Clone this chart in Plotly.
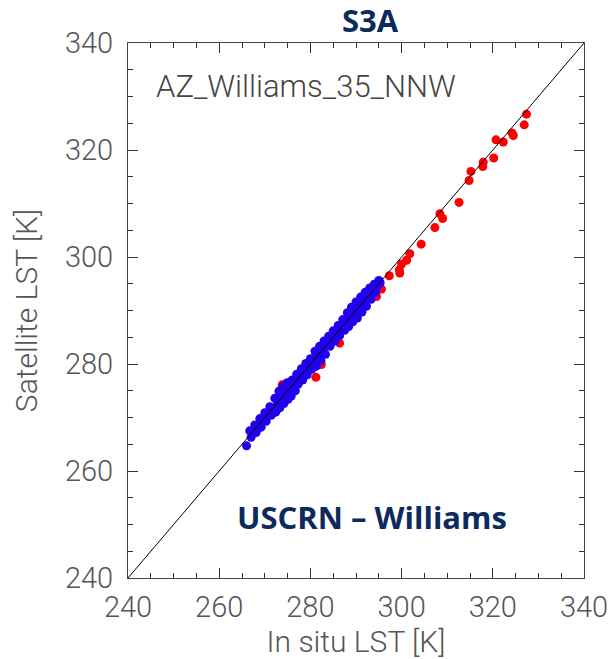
import plotly.graph_objects as go

# In situ vs satellite LST [K], blue = main sample, red = additional matchups
blue_insitu = [
    266.0,
    266.7, 267.0, 267.4, 267.8, 268.1, 268.5, 268.9, 269.2, 269.6, 270.0, 270.3,
    270.7, 271.1, 271.4, 271.8,
    272.2, 272.4, 272.8, 273.1, 273.3, 273.7, 274.0, 274.2, 274.6, 274.9, 275.1,
    275.5, 275.8, 276.0, 276.4, 276.7,
    277.0, 277.3, 277.7, 278.0, 278.3, 278.7, 279.0, 279.3, 279.7, 280.0, 280.3,
    280.7,
    281.0, 281.3, 281.6, 282.0, 282.3, 282.6, 283.0, 283.3, 283.7, 284.0,
    284.3, 284.7, 285.0, 285.4, 285.7, 286.1, 286.4, 286.8, 287.1, 287.5, 287.8,
    288.1, 288.4, 288.7, 289.0, 289.3, 289.7, 290.0, 290.3, 290.6, 291.0, 291.3,
    291.6, 292.0, 292.3, 292.6, 293.0,
    293.3, 293.6, 294.0, 294.3, 294.7, 295.0, 295.3,
]
blue_sat = [
    264.7,
    267.5, 266.3, 267.5, 268.6, 267.2, 268.3, 269.8, 268.2, 269.5, 270.9, 269.3,
    270.6, 272.0, 270.4, 271.7,
    273.6, 271.0, 272.7, 274.9, 271.8, 273.6, 275.8, 272.6, 274.5, 276.5, 273.4,
    275.3, 274.0, 277.0, 275.9, 275.0,
    278.1, 276.2, 277.5, 279.1, 277.0, 278.6, 280.1, 278.0, 279.6, 281.0, 279.0,
    280.6,
    282.4, 279.6, 281.2, 283.3, 280.6, 282.3, 284.3, 281.8, 283.4, 285.2,
    283.3, 284.9, 286.2, 284.3, 285.8, 287.2, 285.3, 286.9, 288.3, 286.3, 287.9,
    289.6, 287.0, 288.8, 290.6, 287.9, 289.6, 291.6, 288.6, 290.5, 292.5, 289.7,
    291.3, 293.4, 290.8, 292.4, 294.2,
    292.1, 293.7, 294.9, 293.3, 294.5, 295.6, 295.2,
]
red_insitu = [
    268.5, 271.0, 273.8, 275.5, 278.0, 281.2, 281.2, 282.4, 284.0, 285.7, 286.4,
    288.5, 290.5, 292.5, 294.5, 295.2, 295.6,
    297.3, 299.6, 299.5, 300.0, 301.1, 301.8, 304.3, 307.3, 309.0, 308.4, 312.6,
    314.8, 315.2, 317.8, 317.9, 320.2, 322.3, 320.7, 324.5, 324.2, 326.9, 327.4,
]
red_sat = [
    268.0, 271.2, 276.1, 274.5, 277.8, 277.5, 282.0, 279.9, 283.5, 286.1, 283.9,
    288.7, 289.5, 292.8, 292.6, 294.5, 294.0,
    296.5, 297.0, 297.6, 298.7, 299.4, 300.6, 302.4, 305.5, 307.2, 308.1, 310.2,
    314.3, 316.0, 316.9, 317.7, 318.5, 321.5, 321.9, 322.7, 323.2, 324.7, 326.7,
]
one_to_one = [240, 340]
axis_range = [240, 340]

fig = go.Figure()
fig.add_trace(go.Scatter(x=red_insitu, y=red_sat, mode="markers",
                         marker=dict(color="#ff0000", size=9, line_width=0)))
fig.add_trace(go.Scatter(x=blue_insitu, y=blue_sat, mode="markers",
                         marker=dict(color="#2200ee", size=9, line_width=0)))
fig.add_trace(go.Scatter(x=one_to_one, y=one_to_one, mode="lines",
                         line=dict(color="#000000", width=1)))

tick_font = dict(family="Roboto", size=29, color="#555555", weight=300)
title_font = dict(family="Roboto", size=30, color="#555555", weight=300)
axis_style = dict(
    range=axis_range, tick0=240, dtick=20, automargin=False,
    ticks="inside", ticklen=10, tickwidth=1, tickcolor="#333333",
    minor=dict(tick0=240, dtick=5, ticks="inside", ticklen=5,
               tickwidth=1, tickcolor="#333333", showgrid=False),
    mirror="ticks", showline=True, linecolor="#444444", linewidth=1,
    showgrid=False, zeroline=False, tickfont=tick_font, title_font=title_font,
)
fig.update_xaxes(**axis_style, title_text="In situ LST [K]",
                 ticklabelstandoff=3, title_standoff=17)
fig.update_yaxes(**axis_style, title_text="Satellite LST [K]",
                 ticklabelstandoff=8, title_standoff=18)

navy = "#0c2a5c"
fig.add_annotation(text="<b>S3A</b>", x=0.531, y=1.043, xref="paper", yref="paper",
                   xanchor="center", yanchor="middle", showarrow=False,
                   font=dict(family="Open Sans", size=31, color=navy))
fig.add_annotation(text="<b>USCRN – Williams</b>", x=0.535, y=0.114, xref="paper",
                   yref="paper", xanchor="center", yanchor="middle", showarrow=False,
                   font=dict(family="Open Sans", size=31, color=navy))
fig.add_annotation(text="AZ_Williams_35_NNW", x=0.056, y=0.918, xref="paper",
                   yref="paper", xanchor="left", yanchor="middle", showarrow=False,
                   font=dict(family="Roboto", size=31, color="#444444", weight=300))

fig.update_layout(
    width=613, height=659, margin=dict(l=128, r=29, t=43, b=81),
    paper_bgcolor="white", plot_bgcolor="white", showlegend=False,
)
fig.write_html("out.html")
